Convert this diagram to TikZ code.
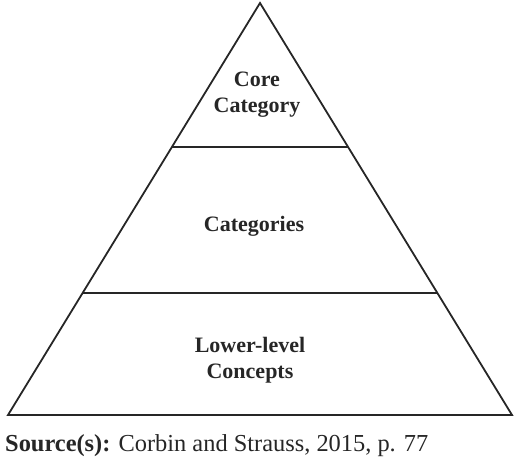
\documentclass[tikz,border=0pt]{standalone}
\usepackage{fontspec}
\setmainfont{Liberation Serif}
\begin{document}
\begin{tikzpicture}[x=1pt,y=-1pt,
  edge/.style={line width=1.8pt,color=black!85},
  lbl/.style={font=\fontsize{22}{26}\selectfont\bfseries,align=center,text=black!85,inner sep=0pt}]
\useasboundingbox (0,0) rectangle (520,462);
\coordinate (apex) at (260,3);
\coordinate (bl) at (8,415);
\coordinate (br) at (512,415);
\draw[edge,line join=miter] (apex) -- (bl) -- (br) -- cycle;
\coordinate (a1) at (172,147);
\coordinate (b1) at (348,147);
\coordinate (a2) at (82.5,293);
\coordinate (b2) at (437.5,293);
\draw[edge] (a1) -- (b1);
\draw[edge] (a2) -- (b2);
\node[lbl] (core) at (257,95) {Core\\Category};
\node[lbl] (cat) at (254,226) {Categories};
\node[lbl] (low) at (250,360) {Lower-level\\Concepts};
\node[anchor=base west,inner sep=0pt,text=black!85,font=\fontsize{24.4}{28}\selectfont] (src) at (5,452) {\textbf{Source(s):} Corbin and Strauss, 2015, p. 77};
\end{tikzpicture}
\end{document}
